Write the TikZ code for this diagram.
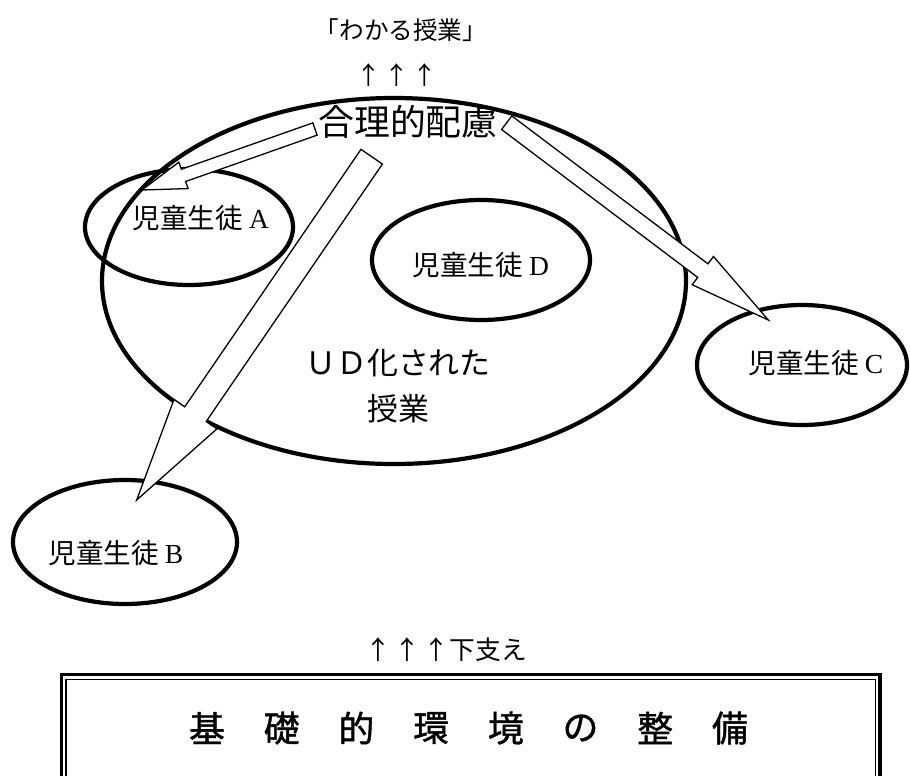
\documentclass[tikz,border=0pt]{standalone}
\usepackage{fontspec}
\setmainfont{Liberation Serif}
\newfontfamily\cjk{Noto Sans CJK JP}
\newfontfamily\cjkbold[FakeBold=1.2]{Noto Sans CJK JP}
\usetikzlibrary{calc}
\tikzset{
  ell/.style={draw, line width=3.6pt},
  arrowshape/.style={draw, fill=white, line width=1.1pt, line join=miter},
  lbl/.style={inner sep=0pt, font=\cjk\fontsize{23.5}{28}\selectfont},
}
\newcommand{\blockarr}[6]{%
  \coordinate (#6) at ($(#2)!#5!(#1)$);
  \draw[arrowshape] ($(#1)!#3!90:(#2)$) -- ($(#6)!#3!-90:(#1)$) -- ($(#6)!#4!-90:(#1)$)
    -- (#2) -- ($(#6)!#4!90:(#1)$) -- ($(#6)!#3!90:(#1)$) -- ($(#1)!#3!-90:(#2)$) -- cycle;
}
\begin{document}
\begin{tikzpicture}[x=0.03cm, y=-0.03cm]
\clip (0,0) rectangle (910,776);
\fill[white] (0,0) rectangle (910,776);
\useasboundingbox (0,0) rectangle (910,776);

% big ellipse
\draw[ell] (394,281) ellipse [x radius=292, y radius=183];
% students
\draw[ell] (189,227) ellipse [x radius=104, y radius=58];
\draw[ell] (481,260) ellipse [x radius=109, y radius=60];
\draw[ell] (802,365) ellipse [x radius=105, y radius=60];
\draw[ell] (125,542) ellipse [x radius=112, y radius=62];

\node[lbl] (sa) at (201,218) {児童生徒 {\rmfamily A}};
\node[lbl] (sd) at (481,265) {児童生徒 {\rmfamily D}};
\node[lbl] (sc) at (816,363) {児童生徒 {\rmfamily C}};
\node[lbl] (sb) at (116,553) {児童生徒 {\rmfamily B}};

\node[inner sep=0pt, font=\cjk\fontsize{26.4}{40}\selectfont, align=center] (ud) at (398,386)
  {ＵＤ化された\\授業};

% top texts
\node[inner sep=0pt, font=\cjk\fontsize{21}{25}\selectfont] (wakaru) at (401,30) {「わかる授業」};
\node[inner sep=0pt, font=\cjk\fontsize{21}{25}\selectfont] (up) at (397,75) {↑\hspace{3pt}↑\hspace{3pt}↑};
\node[inner sep=0pt, font=\cjk\fontsize{30.6}{36}\selectfont] (gori) at (408,122) {合理的配慮};

% block arrows
\coordinate (ta) at (315,129);
\coordinate (pa) at (142,190);
\coordinate (tb) at (371.7,156.7);
\coordinate (pb) at (136.7,500);
\coordinate (tc) at (506.7,122.7);
\coordinate (pc) at (768.3,320);
\blockarr{ta}{pa}{0.195cm}{0.42cm}{1.32cm}{ha}
\blockarr{tb}{pb}{0.39cm}{0.78cm}{3.12cm}{hb}
\blockarr{tc}{pc}{0.255cm}{0.53cm}{2.46cm}{hc}

% bottom
\node[inner sep=0pt, font=\cjk\fontsize{22}{26}\selectfont] (shitasasae) at (446,650) {↑\hspace{3pt}↑\hspace{3pt}↑下支え};
\draw[line width=3.2pt] (61.5,800) -- (61.5,674.5) -- (880,674.5) -- (880,800);
\draw[line width=1.1pt] (66,800) -- (66,679.5) -- (875.5,679.5) -- (875.5,800);
\foreach \c [count=\i from 0] in {基,礎,的,環,境,の,整,備}{
  \node[inner sep=0pt, font=\cjkbold\fontsize{30.6}{36}\selectfont] (k\i) at ({207+74.7*\i},728) {\c};
}
\end{tikzpicture}
\end{document}
